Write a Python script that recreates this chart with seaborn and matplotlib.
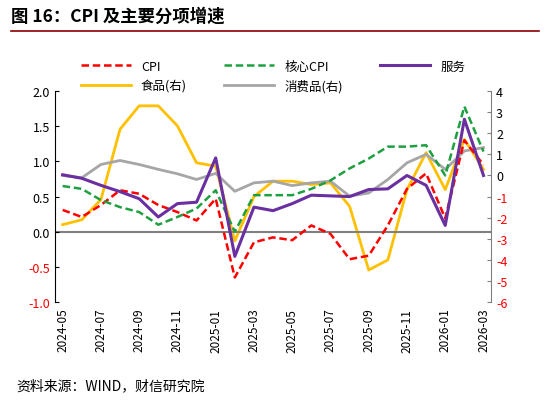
import matplotlib
matplotlib.use("Agg")
import matplotlib.pyplot as plt
import seaborn as sns
import pandas as pd
import numpy as np

months = ["2024-05","2024-06","2024-07","2024-08","2024-09","2024-10","2024-11","2024-12",
          "2025-01","2025-02","2025-03","2025-04","2025-05","2025-06","2025-07","2025-08",
          "2025-09","2025-10","2025-11","2025-12","2026-01","2026-02","2026-03"]
cpi = [0.31,0.21,0.38,0.59,0.54,0.38,0.28,0.16,0.47,-0.65,-0.15,-0.08,-0.12,0.09,-0.03,-0.39,
       -0.34,0.09,0.61,0.83,0.19,1.3,0.95]
core = [0.65,0.61,0.45,0.35,0.28,0.1,0.21,0.33,0.59,0.0,0.52,0.52,0.52,0.61,0.73,0.9,
        1.04,1.21,1.21,1.23,0.8,1.78,1.14]
service = [0.81,0.76,0.66,0.57,0.47,0.21,0.4,0.42,1.05,-0.35,0.35,0.3,0.4,0.52,0.51,0.5,
           0.6,0.61,0.8,0.66,0.09,1.6,0.8]
food = [-2.33,-2.1,-1.14,2.19,3.3,3.3,2.35,0.6,0.44,-3.1,-1.0,-0.27,-0.27,-0.43,-0.35,-1.46,
        -4.48,-4.0,-0.67,1.08,-0.67,1.71,0.29]
goods = [0.0,-0.11,0.52,0.71,0.52,0.29,0.08,-0.19,0.1,-0.75,-0.35,-0.27,-0.48,-0.35,-0.27,-0.98,
         -0.83,-0.19,0.6,1.0,0.29,1.16,1.32]
tick_labels = months[::2]

plt.rcParams['font.family'] = ['Noto Sans CJK SC', 'DejaVu Sans']
plt.rcParams['axes.unicode_minus'] = False

df = pd.DataFrame({"x": np.arange(len(months)), "cpi": cpi, "core": core, "service": service,
                   "food": food, "goods": goods})

fig = plt.figure(figsize=(5.5, 4.02), dpi=100)
ax = fig.add_axes([0.1, 0.246, 0.793, 0.525])
ax2 = ax.twinx()

sns.lineplot(data=df, x="x", y="cpi", ax=ax, color="#FF0000", lw=1.8, linestyle=(0, (3, 1.5)), label="CPI", legend=False)
sns.lineplot(data=df, x="x", y="core", ax=ax, color="#1FA040", lw=1.8, linestyle=(0, (3, 1.5)), label="核心CPI", legend=False)
sns.lineplot(data=df, x="x", y="service", ax=ax, color="#6A2FA0", lw=2.2, label="服务", legend=False)
sns.lineplot(data=df, x="x", y="food", ax=ax2, color="#FFC000", lw=2.0, label="食品(右)", legend=False)
sns.lineplot(data=df, x="x", y="goods", ax=ax2, color="#A6A6A6", lw=2.0, label="消费品(右)", legend=False)
ax.set_zorder(ax2.get_zorder() + 1)
ax.patch.set_visible(False)

ax.set_ylim(-1.0, 2.0)
ax.set_yticks(np.arange(-1.0, 2.01, 0.5))
ax.set_yticklabels([f"{v:.1f}" for v in np.arange(-1.0, 2.01, 0.5)], fontsize=9)
ax2.set_ylim(-6, 4)
ax2.set_yticks(range(-6, 5))
ax2.set_yticklabels([str(v) for v in range(-6, 5)], fontsize=9)
for lab, v in zip(ax.get_yticklabels(), np.arange(-1.0, 2.01, 0.5)):
    lab.set_color("#FF0000" if v < 0 else "black")
for lab, v in zip(ax2.get_yticklabels(), range(-6, 5)):
    lab.set_color("#FF0000" if v < 0 else "black")

ax.set_xlim(-0.4, len(months) - 0.6)
ax.set_xticks(np.arange(0, len(months), 2))
ax.set_xticklabels(tick_labels, rotation=90, fontsize=8.5)
ax.set_xlabel(""); ax.set_ylabel(""); ax2.set_ylabel("")
ax.axhline(0, color="#808080", lw=1.5, zorder=0)
ax.tick_params(axis="x", length=0, pad=4)
for s in ["top"]:
    ax.spines[s].set_visible(False); ax2.spines[s].set_visible(False)
ax.spines["bottom"].set_visible(False); ax2.spines["bottom"].set_visible(False)
ax.spines["right"].set_visible(False)
ax2.spines["left"].set_visible(False)
ax.spines["left"].set_color("black")
ax2.spines["right"].set_color("#808080")
ax.tick_params(axis="y", direction="in", length=3)
ax2.tick_params(axis="y", direction="in", length=3, color="#808080")

h1, l1 = ax.get_legend_handles_labels()
h2, l2 = ax2.get_legend_handles_labels()
hs = [h1[0], h2[0], h1[1], h2[1], h1[2]]
ls = [l1[0], l2[0], l1[1], l2[1], l1[2]]
ax.legend(hs, ls, ncol=3, loc="lower center", bbox_to_anchor=(0.5, 0.97),
          frameon=False, fontsize=9, handlelength=4, columnspacing=3, borderaxespad=0)

fig.text(0.02, 0.945, "图 16：CPI 及主要分项增速", fontsize=12.5, fontweight="bold")
fig.add_artist(plt.Line2D([0.02, 0.98], [0.92, 0.92], color="#8B0000", lw=1.2))
fig.text(0.03, 0.03, "资料来源：WIND，财信研究院", fontsize=10, style="italic")
fig.savefig("out.png", dpi=100)
